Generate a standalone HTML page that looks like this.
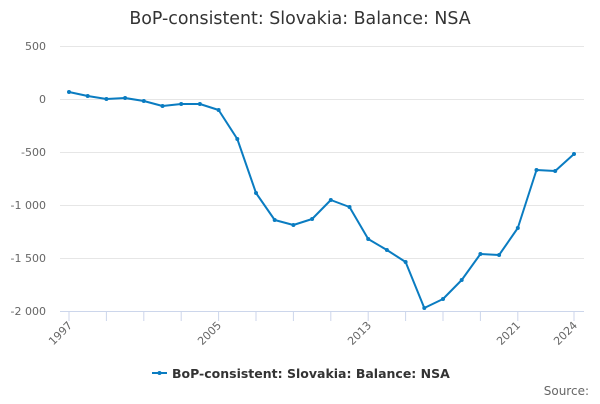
<!DOCTYPE html>
<html><head><meta charset="utf-8"><style>
body{margin:0;background:#fff;font-family:"DejaVu Sans","Liberation Sans",sans-serif}
</style></head><body>
<svg width="600" height="400" xmlns="http://www.w3.org/2000/svg" font-family="DejaVu Sans, Liberation Sans, sans-serif">
<text x="300" y="24" text-anchor="middle" font-size="17.4" fill="#333">BoP-consistent: Slovakia: Balance: NSA</text>
<g stroke="#e6e6e6" stroke-width="1">
<line x1="60" x2="584" y1="46.5" y2="46.5"/>
<line x1="60" x2="584" y1="99.5" y2="99.5"/>
<line x1="60" x2="584" y1="152.5" y2="152.5"/>
<line x1="60" x2="584" y1="205.5" y2="205.5"/>
<line x1="60" x2="584" y1="258.5" y2="258.5"/>
</g>
<line x1="60" x2="584" y1="311.5" y2="311.5" stroke="#ccd6eb"/>
<g stroke="#ccd6eb">
<line x1="69" x2="69" y1="311" y2="321"/><line x1="106.4" x2="106.4" y1="311" y2="321"/><line x1="143.8" x2="143.8" y1="311" y2="321"/><line x1="181.2" x2="181.2" y1="311" y2="321"/><line x1="218.6" x2="218.6" y1="311" y2="321"/><line x1="256" x2="256" y1="311" y2="321"/><line x1="293.4" x2="293.4" y1="311" y2="321"/><line x1="330.8" x2="330.8" y1="311" y2="321"/><line x1="368.2" x2="368.2" y1="311" y2="321"/><line x1="405.6" x2="405.6" y1="311" y2="321"/><line x1="443" x2="443" y1="311" y2="321"/><line x1="480.4" x2="480.4" y1="311" y2="321"/><line x1="517.8" x2="517.8" y1="311" y2="321"/><line x1="574" x2="574" y1="311" y2="321"/>
</g>
<g font-size="11" fill="#666" text-anchor="end">
<text x="46" y="50">500</text><text x="46" y="103">0</text><text x="46" y="156">-500</text><text x="46" y="209">-1 000</text><text x="46" y="262">-1 500</text><text x="46" y="315">-2 000</text>
</g>
<g font-size="11" fill="#666" text-anchor="end">
<text transform="translate(73,326) rotate(-45)">1997</text>
<text transform="translate(222,326) rotate(-45)">2005</text>
<text transform="translate(372,326) rotate(-45)">2013</text>
<text transform="translate(521,326) rotate(-45)">2021</text>
<text transform="translate(578,326) rotate(-45)">2024</text>
</g>
<polyline fill="none" stroke="#0a7cc1" stroke-width="2" stroke-linejoin="round" points="69,92 87.7,96 106.4,99 125.1,98 143.8,101 162.5,106 181.2,104 199.9,104 218.6,110 237.3,139 256,193 274.7,220 293.4,225 312.1,219 330.8,200 349.5,207 368.2,239 386.9,250 405.6,262 424.3,308 443,299 461.7,280 480.4,254 499.1,255 517.8,228 536.5,170 555.2,171 574,154"/>
<g fill="#0a7cc1">
<circle cx="69" cy="92" r="2"/><circle cx="87.7" cy="96" r="2"/><circle cx="106.4" cy="99" r="2"/><circle cx="125.1" cy="98" r="2"/><circle cx="143.8" cy="101" r="2"/><circle cx="162.5" cy="106" r="2"/><circle cx="181.2" cy="104" r="2"/><circle cx="199.9" cy="104" r="2"/><circle cx="218.6" cy="110" r="2"/><circle cx="237.3" cy="139" r="2"/><circle cx="256" cy="193" r="2"/><circle cx="274.7" cy="220" r="2"/><circle cx="293.4" cy="225" r="2"/><circle cx="312.1" cy="219" r="2"/><circle cx="330.8" cy="200" r="2"/><circle cx="349.5" cy="207" r="2"/><circle cx="368.2" cy="239" r="2"/><circle cx="386.9" cy="250" r="2"/><circle cx="405.6" cy="262" r="2"/><circle cx="424.3" cy="308" r="2"/><circle cx="443" cy="299" r="2"/><circle cx="461.7" cy="280" r="2"/><circle cx="480.4" cy="254" r="2"/><circle cx="499.1" cy="255" r="2"/><circle cx="517.8" cy="228" r="2"/><circle cx="536.5" cy="170" r="2"/><circle cx="555.2" cy="171" r="2"/><circle cx="574" cy="154" r="2"/>
</g>
<line x1="152" x2="167" y1="373" y2="373" stroke="#0a7cc1" stroke-width="2"/>
<circle cx="159.5" cy="373" r="2" fill="#0a7cc1"/>
<text x="172" y="378" font-size="12.5" font-weight="bold" fill="#333">BoP-consistent: Slovakia: Balance: NSA</text>
<text x="589" y="395" font-size="12" fill="#666" text-anchor="end">Source:</text>
</svg>
</body></html>
